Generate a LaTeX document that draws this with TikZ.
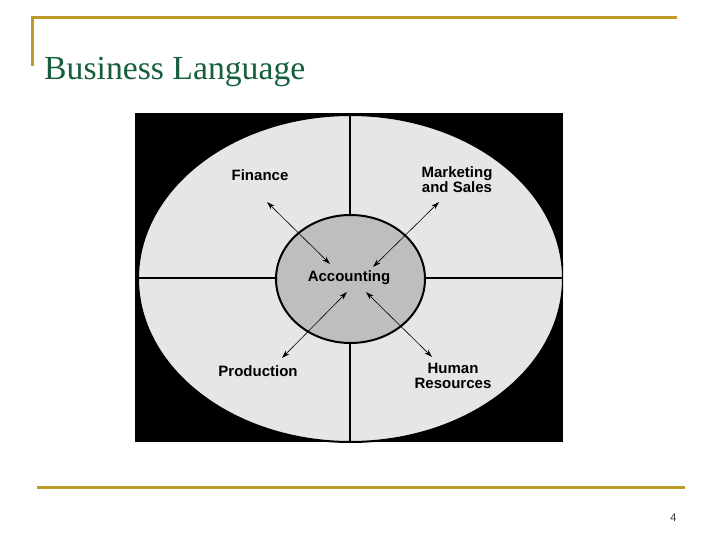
\documentclass[tikz,border=0pt]{standalone}
\usepackage{fontspec}
\setmainfont{Liberation Serif}
\setsansfont{Liberation Sans}
\usetikzlibrary{arrows.meta}
\usetikzlibrary{shapes.geometric}
\definecolor{ColGold}{RGB}{190,155,40}
\definecolor{ColTitle}{RGB}{22,94,62}
\definecolor{ColOval}{RGB}{230,230,230}
\definecolor{ColCore}{RGB}{190,190,190}
\tikzstyle{FrameLine}=[ColGold,line width=3pt]
\tikzstyle{DivLine}=[black,line width=2pt]
\tikzstyle{DeptLabel}=[font=\sffamily\bfseries\fontsize{15}{15}\selectfont,align=center,inner sep=0pt]
\tikzstyle{CoreOval}=[ellipse,draw,line width=2pt,fill=ColCore,minimum width=149pt,minimum height=128pt,inner sep=0pt]
\tikzstyle{LinkArrow}=[{Stealth[length=8pt,width=5pt]}-{Stealth[length=8pt,width=5pt]},line width=0.6pt]

\begin{document}
\begin{tikzpicture}[x=1pt,y=-1pt]
        \useasboundingbox (0,0) rectangle (720,540);
        % slide frame
        \draw[FrameLine] (32,66) -- (32,18) -- (677,18);
        \draw[FrameLine] (37,487) -- (685,487);
        \node[anchor=base west,inner sep=0pt,text=ColTitle,font=\fontsize{33.7}{38}\selectfont](title)at(44,80){Business Language};
        \node[anchor=base,inner sep=0pt,text=black!80,font=\sffamily\fontsize{11}{12}\selectfont](page)at(673.5,521){4};
        % picture
        \fill[black] (135,113) rectangle (563,442);
        \begin{scope}
            \clip (135,113) rectangle (563,442);
            \draw[DivLine,fill=ColOval] (350.5,278.5) ellipse [x radius=212.5,y radius=163.5];
        \end{scope}
        \draw[DivLine] (350,114) -- (350,442);
        \draw[DivLine] (137,278) -- (563,278);
        \node[CoreOval](acc)at(350.5,279){};
        \node[DeptLabel]at(349,278){Accounting};
        \node[DeptLabel](fin)at(260,175){Finance};
        \node[DeptLabel](mkt)at(457,180){Marketing\\and Sales};
        \node[DeptLabel](prod)at(258,371){Production};
        \node[DeptLabel](hr)at(453,376){Human\\Resources};
        \coordinate(finA)at(267,202);
        \coordinate(finB)at(330,264);
        \coordinate(mktA)at(439,202);
        \coordinate(mktB)at(373,267);
        \coordinate(prodA)at(282,358);
        \coordinate(prodB)at(347,292);
        \coordinate(hrA)at(432,357);
        \coordinate(hrB)at(366,292);
        \draw[LinkArrow](finA)--(finB);
        \draw[LinkArrow](mktA)--(mktB);
        \draw[LinkArrow](prodA)--(prodB);
        \draw[LinkArrow](hrA)--(hrB);
    \end{tikzpicture}
\end{document}
